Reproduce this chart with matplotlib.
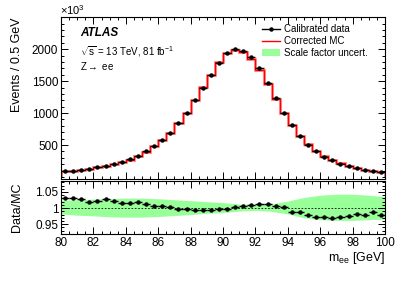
import matplotlib
matplotlib.use('Agg')
import matplotlib.pyplot as plt
import numpy as np
from matplotlib.lines import Line2D
from matplotlib.patches import Patch
from matplotlib.ticker import MultipleLocator

plt.rcParams['font.family'] = ['Liberation Sans', 'DejaVu Sans']
plt.rcParams['mathtext.fontset'] = 'custom'
plt.rcParams['mathtext.rm'] = 'Liberation Sans'
plt.rcParams['mathtext.it'] = 'Liberation Sans:italic'

# bin edges 80-100 GeV, 0.5 GeV bins
bin_edges = np.arange(80, 100.01, 0.5)
bin_centers = 0.5 * (bin_edges[:-1] + bin_edges[1:])

# events (x10^3) per bin
data_events = [94, 100, 114, 130, 155, 180, 205, 238, 277, 330,
               400, 489, 578, 692, 839, 1005, 1203, 1400, 1594, 1786,
               1933, 1995, 1973, 1870, 1698, 1473, 1234, 1005, 808, 641,
               500, 400, 320, 260, 210, 172, 140, 112, 95, 80]

# data/MC ratio per bin
ratio = [1.032, 1.032, 1.029, 1.020, 1.022, 1.027, 1.021, 1.016, 1.016, 1.018,
         1.013, 1.008, 1.008, 1.002, 0.997, 0.996, 0.993, 0.993, 0.995, 0.996,
         0.998, 1.003, 1.006, 1.009, 1.012, 1.013, 1.007, 1.002, 0.988, 0.988,
         0.979, 0.974, 0.974, 0.969, 0.973, 0.975, 0.981, 0.978, 0.989, 0.979]

# scale factor uncertainty band (ratio units) at integer masses
band_mass = list(range(80, 101))
band_up = [1.024, 1.026, 1.028, 1.030, 1.031, 1.031, 1.029, 1.026, 1.023, 1.020,
           1.017, 1.013, 1.011, 1.013, 1.022, 1.033, 1.040, 1.043, 1.043, 1.040, 1.035]
band_down = [0.982, 0.978, 0.976, 0.973, 0.972, 0.972, 0.974, 0.977, 0.980, 0.984,
             0.986, 0.991, 0.993, 0.990, 0.982, 0.970, 0.964, 0.962, 0.962, 0.964, 0.966]

data_arr = np.array(data_events, dtype=float)
ratio_arr = np.array(ratio)
mc_events = data_arr / ratio_arr

fig = plt.figure(figsize=(3.99, 2.86), dpi=100)
ax = fig.add_axes([0.153, 0.374, 0.812, 0.566])
axr = fig.add_axes([0.153, 0.182, 0.812, 0.184], sharex=ax)

GREEN = '#99ff99'

# top panel
ax.stairs(mc_events, bin_edges, color='#ffa0a0', linewidth=2.2)
ax.stairs(mc_events, bin_edges, color='red', linewidth=1.0)
ax.errorbar(bin_centers, data_arr, xerr=0.25, fmt='o', ms=2.2, color='black',
            elinewidth=1.0, capsize=0)
ax.set_xlim(80, 100)
ax.set_ylim(-31, 2500)
ax.yaxis.set_minor_locator(MultipleLocator(100))
ax.set_yticks([500, 1000, 1500, 2000])
ax.set_ylabel('Events / 0.5 GeV', fontsize=9, loc='top')
ax.yaxis.set_label_coords(-0.118, 1.0)
plt.setp(ax.get_xticklabels(), visible=False)

ax.text(0.059, 0.905, 'ATLAS', transform=ax.transAxes, fontsize=8.5,
        fontweight='bold', style='italic', va='center')
ax.text(0.059, 0.79, r'$\sqrt{\rm s}$ = 13 TeV, 81 fb$^{-1}$', transform=ax.transAxes,
        fontsize=7, va='center')
ax.text(0.059, 0.70, r'Z$\rightarrow$ ee', transform=ax.transAxes, fontsize=7, va='center')
fig.text(0.150, 0.942, r'$\times$10$^{3}$', fontsize=8, va='bottom', ha='left')

handles = [Line2D([], [], color='black', marker='o', ms=2.2, lw=1.0),
           Line2D([], [], color='red', lw=1.0),
           Patch(facecolor=GREEN, edgecolor='none')]
labels = ['Calibrated data', 'Corrected MC', 'Scale factor uncert.']
ax.legend(handles, labels, loc='upper left', bbox_to_anchor=(0.60, 1.0),
          frameon=False, fontsize=7, handlelength=1.8, handletextpad=0.4,
          labelspacing=0.2, borderaxespad=0.3)

# ratio panel
axr.fill_between(band_mass, band_down, band_up, color=GREEN, linewidth=0)
axr.axhline(1.0, color='black', linestyle=(0, (2, 2)), linewidth=0.6)
axr.errorbar(bin_centers, ratio_arr, xerr=0.25, fmt='o', ms=2.2, color='black',
             elinewidth=1.0, capsize=0)
axr.set_ylim(0.92, 1.083)
axr.set_yticks([0.95, 1.0, 1.05])
axr.set_yticklabels(['0.95', '1', '1.05'])
axr.yaxis.set_minor_locator(MultipleLocator(0.01))
axr.set_ylabel('Data/MC', fontsize=9)
axr.yaxis.set_label_coords(-0.118, 0.5)
axr.set_xticks(np.arange(80, 101, 2))
axr.xaxis.set_minor_locator(MultipleLocator(0.5))
axr.set_xlabel(r'm$_{\rm ee}$ [GeV]', fontsize=9, loc='right', labelpad=1)

for a in (ax, axr):
    a.tick_params(which='both', direction='in', top=True, right=True, labelsize=8.5)
    a.tick_params(which='major', length=5, width=0.7)
    a.tick_params(which='minor', length=2.5, width=0.7)
    a.tick_params(axis='y', pad=2)
    a.tick_params(axis='x', pad=2)
    for s in a.spines.values():
        s.set_linewidth(0.8)

fig.savefig('out.png', dpi=100)
